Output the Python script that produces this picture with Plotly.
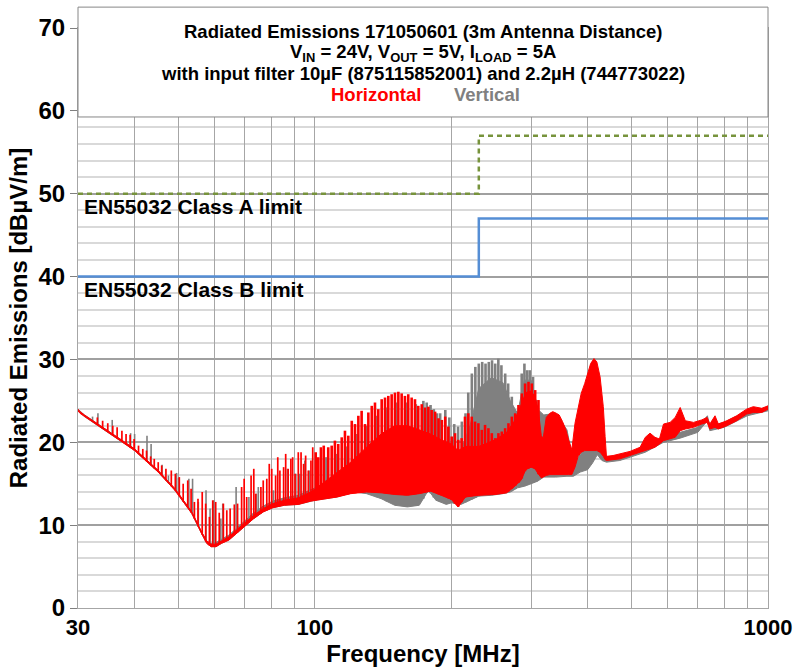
import numpy as np
import plotly.graph_objects as go

# values (MHz, dBuV/m)

# EN55032 limit lines, step at 230 MHz
limit_freq = [30, 230, 1000]
class_a = [50, 57, 57]
class_b = [40, 47, 47]

# horizontal polarisation (red): lower / upper edge of the solid trace
h_band_freq = [30, 30.3, 31, 32.2, 35, 38.1, 40, 41.5, 45.1, 49.1, 53.5, 56.2, 57.7, 59, 60.5,
               62.2, 64.6, 67.1, 69.8, 73.3, 76.9, 80.7, 85.6, 91.9, 98, 105, 112, 120, 130, 140,
               150, 160, 170, 180, 190, 200, 207, 215, 230, 250, 265, 275, 285, 292, 300,
               306, 311, 316, 319, 324, 330, 335, 341, 346, 352, 358, 363, 369, 375, 381,
               387, 394, 400, 406, 413, 419, 426, 433, 437, 440, 455, 471, 496, 522, 536,
               549, 563, 576, 588, 608, 624, 640, 657, 685, 714, 734, 744, 764, 777, 811,
               853, 897, 928, 969, 1000]
h_band_low = [23.8, 23.5, 23.1, 22.5, 21.2, 19.8, 19.0, 18.2, 16.4, 14.2, 11.4, 9.0, 7.8, 7.4, 7.4,
              7.8, 8.2, 9.0, 9.8, 10.8, 11.6, 12.1, 12.4, 12.5, 12.9, 13.2, 13.4, 13.8, 14.0, 13.9,
              13.7, 13.6, 13.8, 14.1, 13.6, 13.1, 12.2, 13.4, 13.6, 13.7, 13.9, 14.6, 15.4, 16.7, 17.0,
              16.8, 16.2, 15.7, 15.8, 16.0, 16.1, 16.1, 16.1, 16.1, 16.1, 16.1, 16.1, 16.1, 17.0, 18.3,
              18.8, 19.0, 19.0, 19.0, 19.0, 19.0, 18.8, 18.3, 17.9, 17.8, 17.9, 18.0, 18.4, 18.8, 19.0,
              19.2, 19.4, 19.8, 20.2, 20.4, 20.6, 21.4, 21.6, 21.8, 22.2, 22.4, 21.6, 21.8, 21.6, 22.0,
              22.6, 23.4, 23.6, 23.6, 24.0]
h_band_high = [24.0, 23.7, 23.3, 22.7, 21.4, 20.0, 19.2, 18.4, 16.6, 14.4, 11.6, 9.2, 8.1, 7.7, 7.7,
               8.1, 8.6, 9.4, 10.2, 11.2, 12.0, 12.6, 13.0, 13.3, 14.0, 15.2, 16.4, 17.6, 19.4, 21.0,
               22.0, 22.0, 21.5, 21.0, 20.3, 19.8, 19.0, 19.5, 19.5, 20.3, 21.2, 22.5, 24.5, 26.0, 26.2,
               25.5, 24.0, 20.8, 20.5, 23.0, 23.5, 23.7, 23.5, 23.3, 22.5, 21.5, 20.3, 19.1, 22.3, 24.3,
               25.9, 27.1, 28.3, 29.5, 30.1, 29.7, 27.9, 24.3, 20.7, 18.3, 18.4, 18.6, 18.9, 19.4, 20.6,
               21.1, 20.6, 20.4, 22.2, 22.4, 23.0, 24.2, 22.6, 22.4, 22.7, 23.0, 22.2, 23.2, 22.2, 22.6,
               23.2, 24.0, 24.3, 24.1, 24.4]

# horizontal polarisation: harmonic spikes (frequency, peak)
h_spike_freq = [33.1, 34.0, 34.9, 35.8, 36.6, 37.5, 38.3, 39.1, 39.9, 40.8,
                41.7, 42.5, 43.4, 44.2, 45.1, 45.9, 46.9, 48.2, 49.2, 50.2,
                51.2, 52.4, 53.3, 54.2, 55.2, 56.4, 57.4, 58.5, 59.5, 60.4,
                61.5, 62.8, 63.9, 65.0, 66.4, 67.5, 68.9, 69.8, 70.7, 72.3,
                73.3, 74.0, 76.0, 76.9, 78.3, 79.3, 80.3, 81.9, 82.8, 83.7,
                85.3, 86.2, 87.3, 88.5, 89.3, 90.4, 91.9, 93.2, 94.4, 95.4,
                96.7, 98.0, 98.9, 100.4, 101.7, 103.1, 104.6, 107.0, 108.9, 110.7,
                112.6, 114.6, 116.5, 118.5, 120.6, 122.6, 124.7, 126.8, 129.0, 131.2,
                133.5, 135.7, 138.0, 140.4, 142.8, 145.2, 147.7, 150.2, 152.8, 155.4,
                158.0, 160.7, 163.5, 166.3, 169.1, 172.1, 175.0, 178.0, 181.0, 184.2,
                187.4, 190.6, 193.9, 197.0, 200.4, 203.8, 207.2, 210.8, 214.4, 218.1,
                221.9, 225.6, 229.5, 233.5, 237.4, 241.5, 245.7, 249.9, 254.1, 258.5,
                262.9, 267.4, 272.0, 276.7, 281.4, 286.2, 291.0, 296.1, 301.1, 306.3,
                311.5]
h_spike_top = [23.0, 22.6, 22.3, 22.0, 21.8, 21.4, 21.0, 20.9, 20.4, 19.6,
               19.2, 19.0, 18.3, 18.0, 17.6, 17.2, 16.8, 16.6, 16.2, 15.8,
               15.0, 15.4, 14.4, 12.8, 13.2, 14.0, 12.6, 11.0, 13.0, 12.8,
               11.5, 12.6, 11.8, 12.0, 12.5, 12.6, 14.6, 15.6, 13.4, 16.0,
               16.8, 13.8, 14.6, 15.4, 15.6, 17.4, 16.8, 16.0, 18.2, 16.6,
               17.0, 18.6, 16.8, 18.0, 18.2, 16.2, 18.8, 18.8, 17.4, 18.4,
               16.6, 17.8, 19.4, 18.8, 18.2, 19.4, 19.6, 19.4, 19.6, 20.2,
               19.8, 20.6, 21.4, 20.8, 22.6, 22.2, 23.2, 23.8, 22.2, 23.6,
               24.4, 24.8, 24.0, 25.2, 25.4, 25.6, 25.8, 26.0, 26.1, 25.9,
               25.6, 25.8, 25.4, 25.2, 24.4, 24.6, 24.2, 24.3, 23.9, 23.7,
               22.9, 22.7, 23.1, 21.9, 20.7, 21.1, 20.3, 20.5, 23.1, 23.5,
               23.1, 22.5, 22.3, 21.5, 22.1, 21.7, 21.1, 20.5, 21.1, 21.3,
               21.7, 22.3, 23.1, 23.5, 24.5, 25.9, 27.1, 27.3, 27.1, 26.3,
               25.1]

# vertical polarisation (grey)
v_band_freq = [30, 31, 32.2, 35, 38.1, 40, 45.1, 49.1, 53.5, 56.2, 57.7, 59, 60.5, 62.2, 64.6,
               67.1, 69.8, 73.3, 76.9, 80.7, 85.6, 91.9, 100, 112, 122, 130, 140, 150, 160, 170,
               178, 185, 195, 200, 210, 220, 230, 245, 260, 270, 280, 290, 300, 310, 320,
               340, 360, 372, 385, 400, 410, 420, 430, 440, 471, 536, 588, 640, 700, 735,
               744, 800, 900, 1000]
v_band_low = [23.8, 23.1, 22.5, 21.2, 19.8, 19.0, 16.4, 14.2, 11.4, 9.0, 7.8, 7.4, 7.4, 7.8, 8.2,
              9.0, 9.8, 10.8, 11.6, 12.1, 12.4, 12.5, 13.0, 13.4, 14.0, 13.8, 13.2, 12.4, 12.2, 12.4,
              14.2, 13.0, 12.5, 12.7, 12.5, 13.0, 13.5, 13.6, 13.8, 14.0, 14.5, 14.7, 15.0, 15.3, 15.8,
              15.8, 15.9, 15.9, 16.4, 16.7, 17.5, 18.5, 17.8, 17.6, 17.8, 18.8, 20.0, 20.5, 21.2, 22.6,
              21.4, 21.8, 23.2, 23.8]
v_band_high = [24.0, 23.3, 22.7, 21.4, 20.0, 19.2, 16.6, 14.4, 11.6, 9.2, 8.1, 7.8, 7.9, 8.3, 8.8,
               9.6, 10.5, 11.5, 12.3, 12.9, 13.3, 13.6, 14.5, 15.5, 16.5, 17.5, 18.5, 19.5, 20.0, 20.0,
               19.5, 19.0, 19.0, 19.0, 19.0, 22.0, 26.5, 27.8, 27.2, 25.0, 23.5, 27.5, 27.5, 24.0, 23.3,
               23.5, 21.5, 17.5, 18.5, 20.0, 21.7, 21.5, 19.0, 18.2, 18.4, 19.2, 20.5, 21.2, 21.8, 23.2,
               22.0, 22.4, 23.8, 24.2]
v_spike_freq = [32.3, 33.2, 35.7, 39.2, 40.0, 42.6, 43.5, 46.0, 47.5, 49.5,
                50.0, 52.7, 53.7, 55.3, 57.5, 58.7, 59.8, 62.0, 62.6, 67.0,
                71.5, 74.3, 75.0, 81.0, 87.0, 90.8, 92.5, 95.0, 97.2, 101,
                106, 111.5, 117.5, 123.5, 130, 137, 144, 151, 159, 167,
                173.5, 176.5, 180, 183, 186, 189, 194, 198, 203, 207,
                211, 215, 218, 222, 226, 230, 234, 238, 242, 246,
                250, 254, 258, 263, 267, 272, 277, 282, 286, 290,
                294, 298, 303, 308]
v_spike_top = [23.1, 23.5, 22.7, 21.1, 21.0, 20.8, 19.8, 17.3, 16.0, 16.3,
               15.7, 15.6, 15.6, 12.8, 14.2, 12.0, 13.0, 10.8, 12.6, 14.6,
               13.4, 13.8, 14.6, 14.2, 16.8, 16.2, 16.2, 17.8, 16.6, 17.8,
               18.2, 18.6, 19.5, 21.0, 22.0, 23.2, 24.2, 24.8, 24.8, 24.6,
               25.0, 24.8, 24.5, 24.0, 23.5, 23.5, 23.9, 23.0, 22.2, 21.9,
               22.5, 23.5, 26.0, 28.3, 29.1, 29.5, 29.7, 29.5, 29.7, 29.9,
               29.5, 30.1, 29.3, 28.3, 27.1, 25.5, 23.1, 24.5, 28.3, 29.5,
               28.7, 28.7, 27.9, 25.1]

grid_freq = [30, 40, 50, 60, 70, 80, 90, 100, 200, 300, 400, 500, 600, 700, 800, 900, 1000]
grid_text = ["30", "", "", "", "", "", "", "100", "", "", "", "", "", "", "", "", "1000"]

RED = "#FF0000"
GREY = "#808080"
FONT = "Liberation Sans, Arial, sans-serif"


def band(freq, low, high, color):
    # solid body of the trace between its lower and upper edge
    return go.Scatter(x=freq + freq[::-1], y=high + low[::-1], mode="lines",
                      fill="toself", fillcolor=color, line=dict(color=color, width=1),
                      hoverinfo="skip", showlegend=False)


def spikes(freq, top, floor_freq, floor_low, color, width, fmin, fmax):
    # each harmonic drawn as a vertical line rising from the trace floor
    base = np.interp(np.log10(freq), np.log10(floor_freq), floor_low)
    xs, ys = [], []
    for f, b, t in zip(freq, base, top):
        if fmin <= f < fmax:
            xs += [f, f, None]
            ys += [b, t, None]
    return go.Scatter(x=xs, y=ys, mode="lines", line=dict(color=color, width=width),
                      hoverinfo="skip", showlegend=False)


fig = go.Figure()
fig.add_trace(band(v_band_freq, v_band_low, v_band_high, GREY))
# sparse harmonics below 100 MHz are thin, the crowded ones above merge into a mass
fig.add_trace(spikes(v_spike_freq, v_spike_top, v_band_freq, v_band_low, GREY, 1.6, 0, 100))
fig.add_trace(spikes(v_spike_freq, v_spike_top, v_band_freq, v_band_low, GREY, 2.6, 100, 2000))
fig.add_trace(band(h_band_freq, h_band_low, h_band_high, RED))
fig.add_trace(spikes(h_spike_freq, h_spike_top, h_band_freq, h_band_low, RED, 1.7, 0, 100))
fig.add_trace(spikes(h_spike_freq, h_spike_top, h_band_freq, h_band_low, RED, 2.6, 100, 2000))

fig.add_trace(go.Scatter(x=limit_freq, y=class_a, mode="lines",
                         line=dict(color="#77933C", width=2.5, dash="5px,4px", shape="hv"),
                         hoverinfo="skip", showlegend=False))
fig.add_trace(go.Scatter(x=limit_freq, y=class_b, mode="lines",
                         line=dict(color="#558ED5", width=2.5, shape="hv"),
                         hoverinfo="skip", showlegend=False))

big = dict(family=FONT, size=24, color="black", weight="bold")

fig.update_xaxes(type="log", range=[np.log10(30), 3], tickvals=grid_freq, ticktext=grid_text,
                 showgrid=True, gridcolor="#A6A6A6", gridwidth=1, ticks="",
                 showline=True, linecolor="#A6A6A6", mirror=True, zeroline=False,
                 tickfont=dict(big, size=22), ticklabeloverflow="allow", automargin=False,
                 title=dict(text="Frequency [MHz]", font=big, standoff=4))
fig.update_yaxes(range=[0, 70], tick0=0, dtick=10, showgrid=True, gridcolor="#A0A0A0",
                 gridwidth=1.5, minor=dict(dtick=2, showgrid=True, gridcolor="#D9D9D9", gridwidth=1.5),
                 ticks="outside", ticklen=7, tickcolor="#7F7F7F",
                 showline=True, linecolor="#A6A6A6", mirror=True, zeroline=False,
                 tickfont=big, automargin=False,
                 title=dict(text="Radiated Emissions [dBµV/m]", font=big, standoff=4))

# title / legend box sitting over the top of the plot area
fig.add_shape(type="rect", xref="paper", yref="paper", x0=0, x1=1, y0=0.8466, y1=1.036,
              fillcolor="white", line=dict(color="#868686", width=1), layer="above")

head = dict(family=FONT, size=18.5, color="black", weight="bold")
title_lines = [
    "Radiated Emissions 171050601 (3m Antenna Distance)",
    "V<sub>IN</sub> = 24V, V<sub>OUT</sub> = 5V, I<sub>LOAD</sub> = 5A",
    "with input filter 10µF (875115852001) and 2.2µH (744773022)",
]
for text, y in zip(title_lines, [0.9948, 0.9569, 0.9216]):
    fig.add_annotation(text=text, xref="paper", yref="paper", x=0.5, y=y,
                       xanchor="center", yanchor="middle", showarrow=False, font=head)
fig.add_annotation(text="Horizontal", xref="paper", yref="paper", x=0.4313, y=0.8845,
                   xanchor="center", yanchor="middle", showarrow=False, font=dict(head, color=RED))
fig.add_annotation(text="Vertical", xref="paper", yref="paper", x=0.5928, y=0.8845,
                   xanchor="center", yanchor="middle", showarrow=False, font=dict(head, color=GREY))

label = dict(family=FONT, size=21, color="black", weight="bold")
fig.add_annotation(text="EN55032 Class A limit", xref="paper", yref="y", x=0.006, y=48.4,
                   xanchor="left", yanchor="middle", showarrow=False, font=label)
fig.add_annotation(text="EN55032 Class B limit", xref="paper", yref="y", x=0.006, y=38.4,
                   xanchor="left", yanchor="middle", showarrow=False, font=label)

fig.update_layout(width=794, height=668, margin=dict(l=78, r=26, t=28, b=60),
                  plot_bgcolor="white", paper_bgcolor="white", showlegend=False,
                  font=dict(family=FONT))

# drop the page's default body margin so the figure fills the window exactly
fig.write_html("out.html", config={"displayModeBar": False},
               post_script="document.body.style.margin='0';document.body.style.overflow='hidden';")
